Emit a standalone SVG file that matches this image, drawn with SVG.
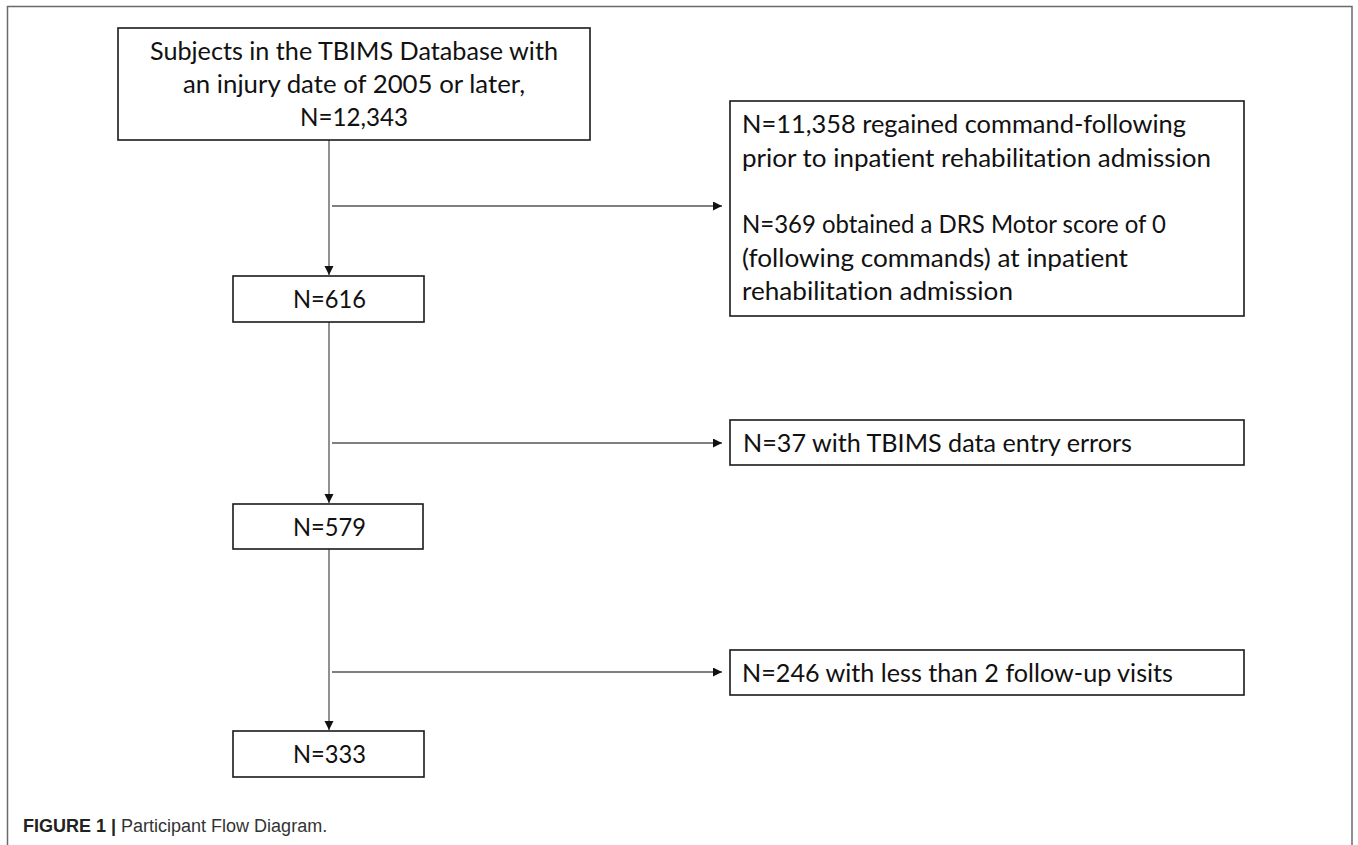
<svg xmlns="http://www.w3.org/2000/svg" width="1358" height="845" viewBox="0 0 1358 845">
<style>
.box{fill:#fff;stroke:#1a1a1a;stroke-width:1.6}
.t{font-family:Lato,"Open Sans","Liberation Sans",sans-serif;font-size:24.5px;fill:#111;font-variant-ligatures:none;font-feature-settings:"liga" 0}
.c{text-anchor:middle}
.con{fill:none;stroke:#555;stroke-width:1.3}
.cap{font-family:"Liberation Sans",Arial,sans-serif;font-size:18px;fill:#333}
</style>
<defs>
<marker id="ah" markerUnits="userSpaceOnUse" markerWidth="10" markerHeight="10" refX="9" refY="4.5" orient="auto">
<path d="M0,0 L9,4.5 L0,9 Z" fill="#111"/>
</marker>
</defs>
<rect width="1358" height="845" fill="#fff"/>
<path d="M7.5,850 V6.5 H1352 V850" fill="none" stroke="#6a6a6a" stroke-width="1.5"/>
<g id="connectors">
<path class="con" d="M329,140 V275" marker-end="url(#ah)"/>
<path class="con" d="M332,206 H722" marker-end="url(#ah)"/>
<path class="con" d="M329,322 V503" marker-end="url(#ah)"/>
<path class="con" d="M332,443 H722" marker-end="url(#ah)"/>
<path class="con" d="M329,549 V730" marker-end="url(#ah)"/>
<path class="con" d="M332,672 H722" marker-end="url(#ah)"/>
</g>
<g id="n-start">
<rect class="box" x="118" y="28" width="472" height="112"/>
<text class="t c" x="354" y="60" textLength="408" lengthAdjust="spacingAndGlyphs">Subjects in the TBIMS Database with</text>
<text class="t c" x="354" y="93" textLength="342" lengthAdjust="spacingAndGlyphs">an injury date of 2005 or later,</text>
<text class="t c" x="354" y="126" textLength="108" lengthAdjust="spacingAndGlyphs">N=12,343</text>
</g>
<g id="n-excl1">
<rect class="box" x="730" y="101" width="514" height="215"/>
<text class="t" x="742" y="133" textLength="444" lengthAdjust="spacingAndGlyphs">N=11,358 regained command-following</text>
<text class="t" x="742" y="167" textLength="469" lengthAdjust="spacingAndGlyphs">prior to inpatient rehabilitation admission</text>
<text class="t" x="742" y="233" textLength="424" lengthAdjust="spacingAndGlyphs">N=369 obtained a DRS Motor score of 0</text>
<text class="t" x="742" y="267" textLength="386" lengthAdjust="spacingAndGlyphs">(following commands) at inpatient</text>
<text class="t" x="742" y="300" textLength="271" lengthAdjust="spacingAndGlyphs">rehabilitation admission</text>
</g>
<g id="n-616">
<rect class="box" x="233" y="276" width="191" height="46"/>
<text class="t c" x="329.5" y="308" textLength="73" lengthAdjust="spacingAndGlyphs">N=616</text>
</g>
<g id="n-excl2">
<rect class="box" x="730" y="420" width="514" height="45"/>
<text class="t" x="743" y="452" textLength="389" lengthAdjust="spacingAndGlyphs">N=37 with TBIMS data entry errors</text>
</g>
<g id="n-579">
<rect class="box" x="233" y="504" width="190" height="45"/>
<text class="t c" x="329.5" y="536" textLength="73" lengthAdjust="spacingAndGlyphs">N=579</text>
</g>
<g id="n-excl3">
<rect class="box" x="730" y="650" width="514" height="45"/>
<text class="t" x="742" y="682" textLength="431" lengthAdjust="spacingAndGlyphs">N=246 with less than 2 follow-up visits</text>
</g>
<g id="n-333">
<rect class="box" x="233" y="731" width="191" height="46"/>
<text class="t c" x="329.5" y="763" textLength="73" lengthAdjust="spacingAndGlyphs">N=333</text>
</g>
<g id="caption">
<text class="cap" x="23" y="832"><tspan font-weight="bold" fill="#222">FIGURE 1 |</tspan> Participant Flow Diagram.</text>
</g>
</svg>
